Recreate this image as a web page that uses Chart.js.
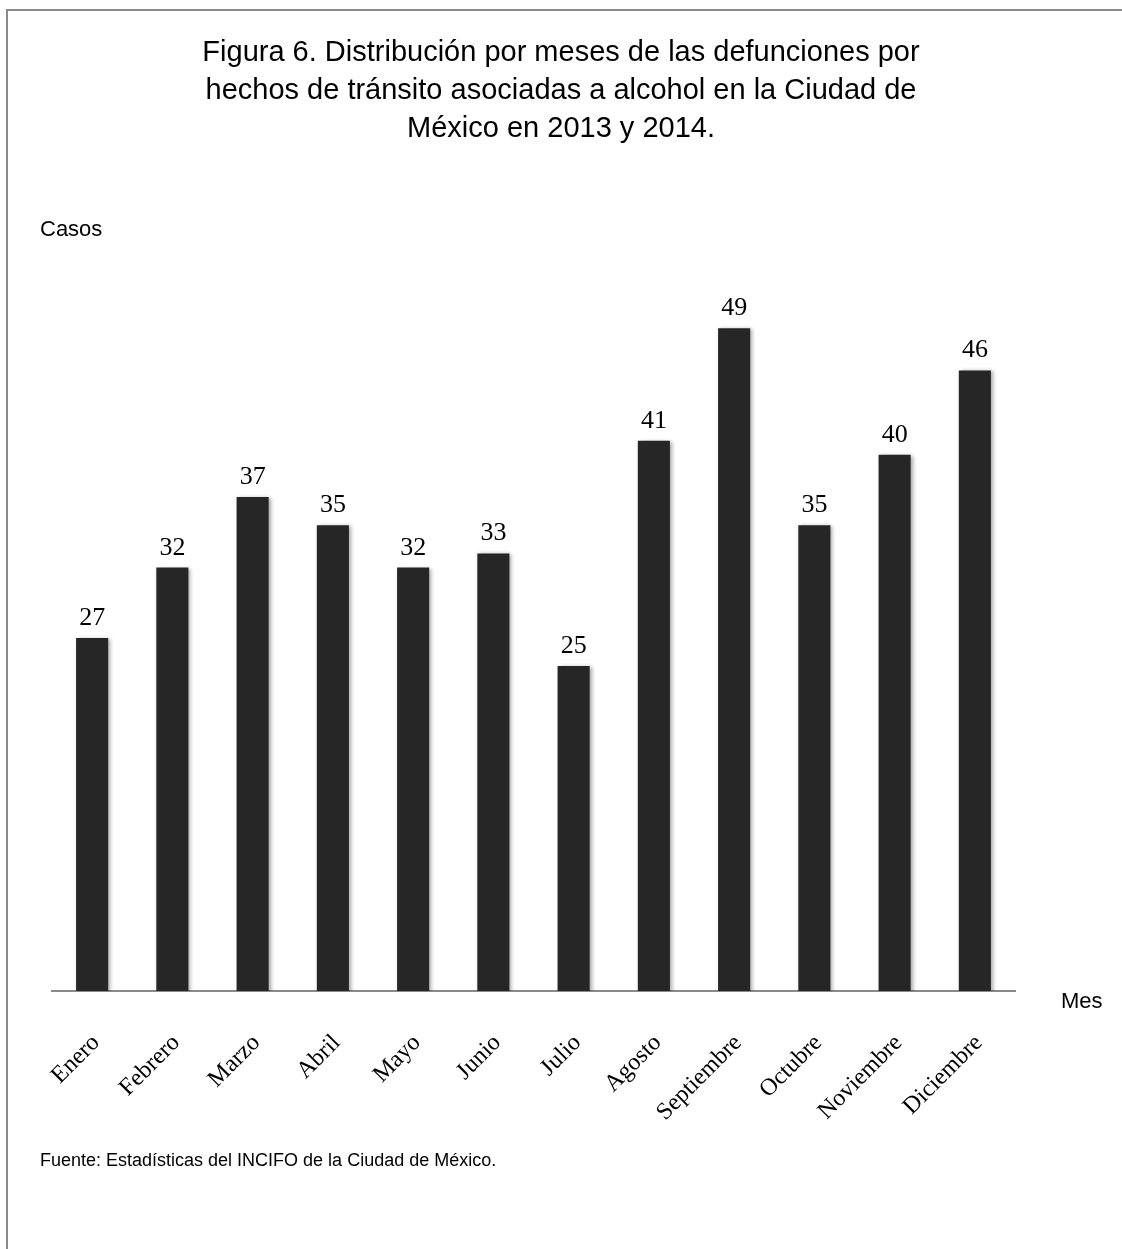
<!DOCTYPE html>
<html>
<head>
<meta charset="utf-8">
<script src="https://cdn.jsdelivr.net/npm/chart.js@4"></script>
<style>
  html, body { margin: 0; padding: 0; background: #fff; }
  canvas { display: block; }
</style>
</head>
<body>
<canvas id="grafica" width="1122" height="1249"></canvas>
<script>
const meses = ['Enero', 'Febrero', 'Marzo', 'Abril', 'Mayo', 'Junio', 'Julio',
  'Agosto', 'Septiembre', 'Octubre', 'Noviembre', 'Diciembre'];
const casos = [27, 32, 37, 35, 32, 33, 25, 41, 49, 35, 40, 46];
const titulo = [
  'Figura 6. Distribución por meses de las defunciones por',
  'hechos de tránsito asociadas a alcohol en la Ciudad de',
  'México en 2013 y 2014.',
];
const fuente = 'Fuente: Estadísticas del INCIFO de la Ciudad de México.';

// textos, marco y etiquetas de valores
const decorado = {
  id: 'decorado',
  beforeDatasetsDraw(chart) {
    const ctx = chart.ctx;
    ctx.save();
    ctx.shadowColor = 'rgba(0,0,0,0.35)';
    ctx.shadowBlur = 4;
    ctx.shadowOffsetX = 2;
    ctx.shadowOffsetY = 1;
  },
  afterDatasetsDraw(chart) {
    const ctx = chart.ctx;
    ctx.restore();
    const meta = chart.getDatasetMeta(0);
    ctx.save();
    ctx.fillStyle = '#000';
    ctx.font = '26px "Liberation Serif", serif';
    ctx.textAlign = 'center';
    ctx.textBaseline = 'alphabetic';
    meta.data.forEach((bar, i) => {
      ctx.fillText(String(casos[i]), bar.x, bar.y - 13);
    });
    ctx.restore();
  },
  afterDraw(chart) {
    const ctx = chart.ctx;
    ctx.save();
    // marco
    ctx.strokeStyle = '#8a8a8a';
    ctx.lineWidth = 2;
    ctx.beginPath();
    ctx.moveTo(7, 1249);
    ctx.lineTo(7, 10);
    ctx.lineTo(1122, 10);
    ctx.stroke();

    ctx.fillStyle = '#000';
    ctx.font = '29px "Liberation Sans", Arial, sans-serif';
    ctx.textAlign = 'center';
    ctx.textBaseline = 'alphabetic';
    titulo.forEach((t, i) => ctx.fillText(t, 561, 61 + i * 38));

    ctx.textAlign = 'left';
    ctx.font = '22px "Liberation Sans", Arial, sans-serif';
    ctx.fillText('Casos', 40, 236);
    ctx.fillText('Mes', 1061, 1008);
    ctx.font = '18px "Liberation Sans", Arial, sans-serif';
    ctx.fillText(fuente, 40, 1166);
    ctx.restore();
  },
};

const data = {
  labels: meses,
  datasets: [{
    label: 'Casos',
    data: casos,
    backgroundColor: '#262626',
    borderWidth: 0,
    categoryPercentage: 1,
    barPercentage: 0.4,
  }],
};

const options = {
  responsive: false,
  animation: false,
  layout: { padding: { left: 52, right: 107, top: 300, bottom: 0 } },
  plugins: {
    legend: { display: false },
    tooltip: { enabled: false },
  },
  scales: {
    x: {
      grid: { display: false },
      border: { display: true, color: '#8a8a8a', width: 2 },
      ticks: {
        color: '#000',
        font: { family: '"Liberation Serif", serif', size: 24 },
        minRotation: 45,
        maxRotation: 45,
        padding: 30,
        labelOffset: 4,
      },
      afterFit(scale) { scale.height = 258; },
    },
    y: {
      display: false,
      min: 1.92,
      max: 51,
    },
  },
};

new Chart(document.getElementById('grafica'), {
  type: 'bar', data, options, plugins: [decorado],
});
</script>
</body>
</html>
